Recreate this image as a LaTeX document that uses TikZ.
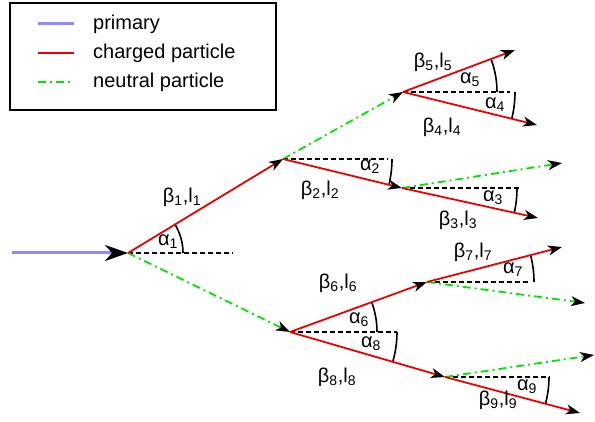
\documentclass[tikz,border=0pt]{standalone}
\usepackage{fontspec}
\setmainfont{Liberation Sans}
\usetikzlibrary{arrows.meta,angles}
\definecolor{prim}{HTML}{8C8CFF}
\definecolor{chg}{HTML}{EE0000}
\definecolor{neu}{HTML}{00E600}
\newcommand\bl[1]{β\textsubscript{#1},l\textsubscript{#1}}
\newcommand\al[1]{α\textsubscript{#1}}
\tikzset{
  primline/.style={prim,line width=3pt},
  chgline/.style={chg,line width=1.8pt},
  neuline/.style={neu,line width=1.8pt,dash pattern=on 8pt off 4pt on 2pt off 4pt},
  refline/.style={black,line width=1.2pt,dash pattern=on 5pt off 3pt},
  tip/.style={-{Stealth[length=14pt,width=10pt,inset=4pt,color=black]}},
  bigtip/.style={-{Stealth[length=23pt,width=16pt,inset=7pt,color=black]}},
  arcst/.style={draw,black,line width=1.6pt},
  lab/.style={inner sep=0pt,font=\fontsize{20}{24}\selectfont},
}
\begin{document}
\begin{tikzpicture}[x=1pt,y=1pt]
\useasboundingbox (0,0) rectangle (595,422);
% legend
\draw[black,line width=1.2pt] (10,312) rectangle (276,419);
\draw[primline] (38,398) -- (74,398);
\draw[chgline,line width=2.4pt] (38,369) -- (74,369);
\draw[neuline,line width=2.4pt] (38,340) -- (74,340);
\node[lab,anchor=west] (t1) at (93,398) {primary};
\node[lab,anchor=west] (t2) at (93,369) {charged particle};
\node[lab,anchor=west] (t3) at (93,340) {neutral particle};
% vertices
\coordinate (P0) at (12,169);
\coordinate (V1) at (128,169);
\coordinate (V2) at (283,263);
\coordinate (V3) at (290,90);
\coordinate (V4) at (403,330);
\coordinate (V5) at (402,234);
\coordinate (V6) at (427,140);
\coordinate (V7) at (445,45);
\coordinate (E5) at (515,372);
\coordinate (E4) at (537,297);
\coordinate (G5) at (562,259);
\coordinate (E3) at (538,204);
\coordinate (E7) at (562,175);
\coordinate (G6) at (585,119);
\coordinate (G7) at (594,67);
\coordinate (E9) at (580,9);
\coordinate (D1) at (233,169);
\coordinate (D2) at (388,263);
\coordinate (D5) at (520,234);
\coordinate (D4) at (510,330);
\coordinate (D3) at (397,90);
\coordinate (D6) at (530,140);
\coordinate (D7) at (550,45);
% reference dashed lines
\foreach \a/\b in {V1/D1,V2/D2,V5/D5,V4/D4,V3/D3,V6/D6,V7/D7}
  \draw[refline] (\a) -- (\b);
% angle arcs
\pic[arcst,angle radius=55pt] {angle=D1--V1--V2};
\pic[arcst,angle radius=109pt] {angle=V5--V2--D2};
\pic[arcst,angle radius=115pt] {angle=E3--V5--D5};
\pic[arcst,angle radius=94pt] {angle=D4--V4--E5};
\pic[arcst,angle radius=112pt] {angle=E4--V4--D4};
\pic[arcst,angle radius=87pt] {angle=D3--V3--V6};
\pic[arcst,angle radius=107pt] {angle=V7--V3--D3};
\pic[arcst,angle radius=107pt] {angle=D6--V6--E7};
\pic[arcst,angle radius=104pt] {angle=E9--V7--D7};
% tracks
\draw[neuline,tip] (V1) -- (V3);
\draw[neuline,tip] (V2) -- (V4);
\draw[neuline,tip] (V5) -- (G5);
\draw[neuline,tip] (V6) -- (G6);
\draw[neuline,tip] (V7) -- (G7);
\draw[chgline,tip] (V1) -- (V2);
\draw[chgline,tip] (V2) -- (V5);
\draw[chgline,tip] (V4) -- (E5);
\draw[chgline,tip] (V4) -- (E4);
\draw[chgline,tip] (V5) -- (E3);
\draw[chgline,tip] (V3) -- (V6);
\draw[chgline,tip] (V3) -- (V7);
\draw[chgline,tip] (V6) -- (E7);
\draw[chgline,tip] (V7) -- (E9);
\draw[primline,bigtip] (P0) -- (V1);
% labels
\node[lab] (b1) at (182,225) {\bl{1}};
\node[lab] (a1) at (168,180) {\al{1}};
\node[lab] (b5) at (433,360) {\bl{5}};
\node[lab] (a5) at (470,342) {\al{5}};
\node[lab] (a4) at (495,317) {\al{4}};
\node[lab] (b4) at (442,295) {\bl{4}};
\node[lab] (a2) at (370,255) {\al{2}};
\node[lab] (b2) at (320,232) {\bl{2}};
\node[lab] (a3) at (493,224) {\al{3}};
\node[lab] (b3) at (458,202) {\bl{3}};
\node[lab] (b7) at (473,170) {\bl{7}};
\node[lab] (a7) at (513,152) {\al{7}};
\node[lab] (b6) at (338,139) {\bl{6}};
\node[lab] (a6) at (359,102) {\al{6}};
\node[lab] (a8) at (371,78) {\al{8}};
\node[lab] (b8) at (337,45) {\bl{8}};
\node[lab] (a9) at (527,35) {\al{9}};
\node[lab] (b9) at (498,22) {\bl{9}};
\end{tikzpicture}
\end{document}
